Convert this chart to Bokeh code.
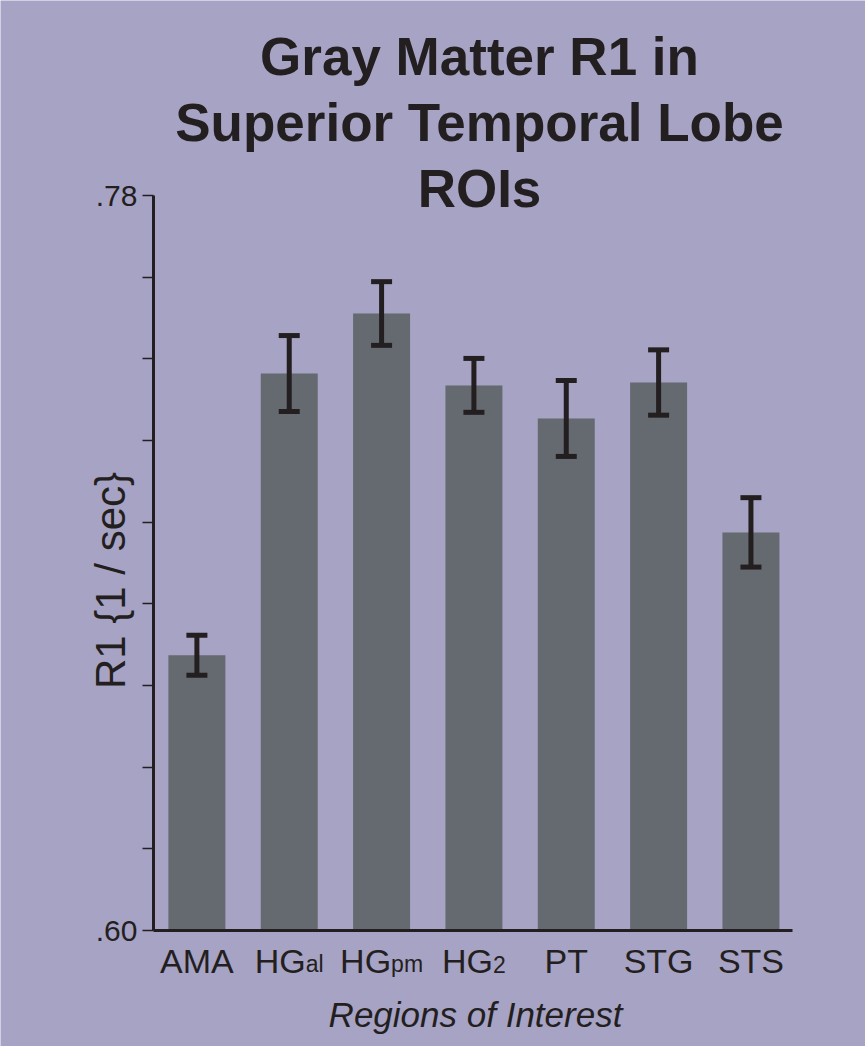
from math import pi

from bokeh.embed import file_html
from bokeh.models import (ColumnDataSource, FixedTicker, Label, Range1d,
                          TeeHead, Whisker)
from bokeh.plotting import figure
from bokeh.resources import INLINE

# ---- data -------------------------------------------------------------
regions_main = ["AMA", "HG", "HG", "HG", "PT", "STG", "STS"]
regions_sub = ["", "al", "pm", "2", "", "", ""]
r1_mean = [0.6674, 0.7364, 0.7511, 0.7335, 0.7254, 0.7342, 0.6975]
r1_err = [0.0049, 0.0093, 0.0078, 0.0066, 0.0093, 0.0080, 0.0085]
y_ticks = [0.60, 0.62, 0.64, 0.66, 0.68, 0.70, 0.72, 0.74, 0.76, 0.78]
y_tick_labels = {0.60: ".60", 0.78: ".78"}

# ---- style ------------------------------------------------------------
BG = "#a7a3c4"
BAR = "#656970"
INK = "#231f20"
FONT = "Liberation Sans"

W, H = 865, 1046
# axis extents in data units and where they sit on the page (px)
XB = (-0.47, 6.45)
YB = (0.60, 0.78)
AX_L, AX_R, AX_T, AX_B = 153, 792, 195, 930

ux = (AX_R - AX_L) / (XB[1] - XB[0])     # px per category step
uy = (AX_B - AX_T) / (YB[1] - YB[0])     # px per R1 unit
def dx(px):
    return XB[0] + (px - AX_L) / ux
def dy(py):
    return YB[0] + (AX_B - py) / uy

p = figure(width=W, height=H,
           x_range=Range1d(dx(0), dx(W)), y_range=Range1d(dy(H), dy(0)),
           output_backend="svg", toolbar_location=None,
           min_border=0, min_border_left=0, min_border_right=0,
           min_border_top=0, min_border_bottom=0)
p.title.visible = False
p.background_fill_color = BG
p.border_fill_color = BG
p.outline_line_color = None
p.grid.visible = False

xs = list(range(len(r1_mean)))
src = ColumnDataSource(dict(
    x=xs, top=r1_mean,
    upper=[m + e for m, e in zip(r1_mean, r1_err)],
    lower=[m - e for m, e in zip(r1_mean, r1_err)],
))

p.vbar(x="x", top="top", bottom=YB[0], width=0.617, source=src,
       fill_color=BAR, line_color=None)

wh = Whisker(base="x", upper="upper", lower="lower", source=src,
             line_color=INK, line_width=5, level="annotation",
             upper_head=TeeHead(size=21, line_color=INK, line_width=5),
             lower_head=TeeHead(size=21, line_color=INK, line_width=5))
p.add_layout(wh)

# ---- axes -------------------------------------------------------------
ya = p.yaxis[0]
ya.fixed_location = XB[0]
ya.bounds = YB
ya.ticker = FixedTicker(ticks=y_ticks)
ya.major_label_overrides = {t: y_tick_labels.get(t, "") for t in y_ticks}
ya.major_label_text_font = FONT
ya.major_label_text_font_size = "30px"
ya.major_label_text_color = INK
ya.major_label_standoff = 5
ya.major_tick_out = 11
ya.major_tick_in = 0
ya.major_tick_line_width = 1.5
ya.major_tick_line_color = INK
ya.minor_tick_line_color = None
ya.axis_line_width = 3
ya.axis_line_color = INK

xa = p.xaxis[0]
xa.fixed_location = YB[0]
xa.bounds = XB
xa.ticker = FixedTicker(ticks=xs)
xa.major_label_text_color = None
xa.major_tick_line_color = None
xa.minor_tick_line_color = None
xa.axis_line_width = 3
xa.axis_line_color = INK

# ---- category labels (with subscripts) --------------------------------
ADV = {'A': .667, 'M': .833, 'H': .722, 'G': .778, 'a': .556, 'l': .222,
       'p': .556, 'm': .833, '2': .556, 'P': .667, 'T': .611, 'S': .667}
MAIN_PX, SUB_PX = 34, 23
mid_main = 960                                  # cap centre of the labels
mid_sub = mid_main + 0.35 * (MAIN_PX - SUB_PX)  # keeps a shared baseline
for i, (m, s) in enumerate(zip(regions_main, regions_sub)):
    wm = sum(ADV[c] for c in m) * MAIN_PX
    ws = sum(ADV[c] for c in s) * SUB_PX
    anchor = i + (wm - (wm + ws) / 2) / ux
    p.add_layout(Label(x=anchor, y=dy(mid_main), text=m, text_align="right",
                       text_baseline="middle", text_font=FONT,
                       text_font_size=f"{MAIN_PX}px", text_color=INK))
    if s:
        p.add_layout(Label(x=anchor, y=dy(mid_sub), text=s, text_align="left",
                           text_baseline="middle", text_font=FONT,
                           text_font_size=f"{SUB_PX}px", text_color=INK))

# ---- axis titles ------------------------------------------------------
p.add_layout(Label(x=dx(475), y=dy(1014), text="Regions of Interest",
                   text_align="center", text_baseline="middle",
                   text_font=FONT, text_font_style="italic",
                   text_font_size="35px", text_color=INK))
p.add_layout(Label(x=dx(110), y=dy(580), text="R1 {1 / sec}", angle=pi / 2,
                   text_align="center", text_baseline="middle",
                   text_font=FONT, text_font_size="42px", text_color=INK))

# ---- title ------------------------------------------------------------
title_lines = ["Gray Matter R1 in", "Superior Temporal Lobe", "ROIs"]
for line, mid in zip(title_lines, [56, 122, 188]):
    p.add_layout(Label(x=dx(479), y=dy(mid), text=line,
                       text_align="center", text_baseline="middle",
                       text_font=FONT, text_font_style="bold",
                       text_font_size="53px", text_color=INK))

open("out.html", "w").write(file_html(p, INLINE))
